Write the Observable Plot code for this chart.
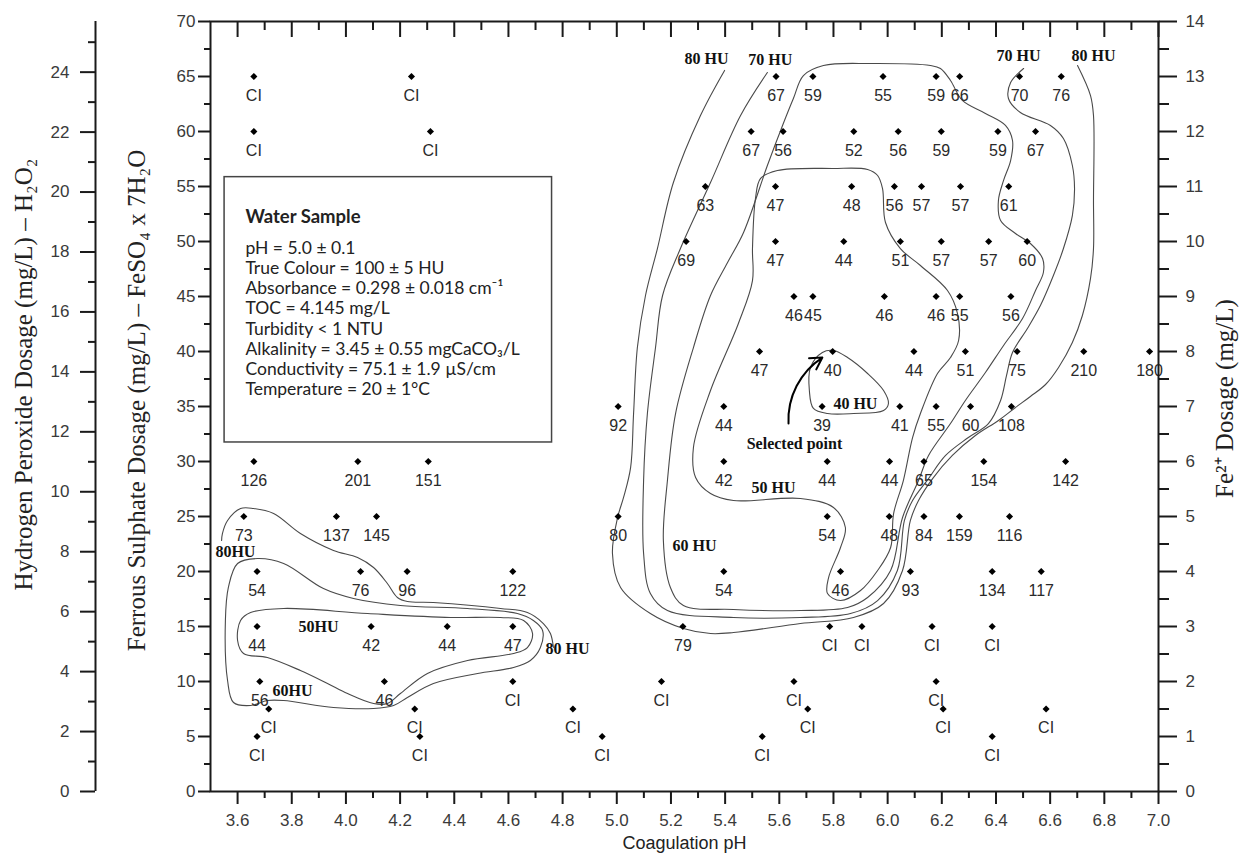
<!DOCTYPE html>
<html><head><meta charset="utf-8">
<script src="https://cdn.jsdelivr.net/npm/d3@7"></script>
<script src="https://cdn.jsdelivr.net/npm/@observablehq/plot@0.6"></script>
<style>body{margin:0;background:#fff}</style>
</head><body><div id="chart"></div>
<script>
// ---- data ----
const doseRows = [65, 60, 55, 50, 45, 40, 35, 30, 25, 20, 15, 10, 7.5, 5];
const rowPH = [
  [3.660, 4.242, 5.588, 5.724, 5.983, 6.179, 6.266, 6.487, 6.641],
  [3.660, 4.312, 5.496, 5.614, 5.875, 6.039, 6.198, 6.407, 6.546],
  [5.327, 5.586, 5.867, 6.025, 6.125, 6.269, 6.447],
  [5.256, 5.586, 5.838, 6.047, 6.198, 6.373, 6.515],
  [5.654, 5.724, 5.988, 6.179, 6.266, 6.455],
  [5.527, 5.797, 6.097, 6.287, 6.478, 6.724, 6.967],
  [5.005, 5.395, 5.758, 6.045, 6.179, 6.306, 6.457],
  [3.660, 4.044, 4.304, 5.395, 5.777, 6.007, 6.134, 6.355, 6.657],
  [3.623, 3.965, 4.113, 5.005, 5.777, 6.006, 6.134, 6.265, 6.450],
  [3.672, 4.054, 4.226, 4.616, 5.395, 5.826, 6.084, 6.386, 6.567],
  [3.672, 4.093, 4.374, 4.616, 5.244, 5.786, 5.905, 6.164, 6.386],
  [3.682, 4.142, 4.616, 5.165, 5.654, 6.179],
  [3.715, 4.254, 4.838, 5.705, 6.205, 6.585],
  [3.672, 4.273, 4.946, 5.537, 6.386]
];
const rowLabels = [
  ["CI", "CI", "67", "59", "55", "59", "66", "70", "76"],
  ["CI", "CI", "67", "56", "52", "56", "59", "59", "67"],
  ["63", "47", "48", "56", "57", "57", "61"],
  ["69", "47", "44", "51", "57", "57", "60"],
  ["46", "45", "46", "46", "55", "56"],
  ["47", "40", "44", "51", "75", "210", "180"],
  ["92", "44", "39", "41", "55", "60", "108"],
  ["126", "201", "151", "42", "44", "44", "65", "154", "142"],
  ["73", "137", "145", "80", "54", "48", "84", "159", "116"],
  ["54", "76", "96", "122", "54", "46", "93", "134", "117"],
  ["44", "42", "44", "47", "79", "CI", "CI", "CI", "CI"],
  ["56", "46", "CI", "CI", "CI", "CI"],
  ["CI", "CI", "CI", "CI", "CI", "CI"],
  ["CI", "CI", "CI", "CI", "CI"]
];

// iso-colour contours [pH, FeSO4 dose]
const c80Main = [[5.398,65.55],[5.309,61.45],[5.209,55.36],[5.150,49.36],[5.106,45.09],[5.076,40.36],[5.062,34.36],[5.051,29.45],[5.025,26.73],[5.003,24.91],[4.984,21.64],[5.014,18.55],[5.124,16.18],[5.246,14.82],[5.346,14.36],[5.431,14.45],[5.678,15.27],[5.874,15.82],[5.985,17.09],[6.055,20.09],[6.084,24.64],[6.114,26.45],[6.166,28.45],[6.239,30.55],[6.324,32.36],[6.409,33.73],[6.472,34.91],[6.527,35.91],[6.583,37.0],[6.631,38.55],[6.682,40.82],[6.719,43.27],[6.749,46.64],[6.760,49.36],[6.760,53.73],[6.760,61.45],[6.749,63.27],[6.701,66.0]];
const c70Main = [[5.556,65.36],[5.457,61.45],[5.346,55.36],[5.235,49.36],[5.169,45.09],[5.143,40.36],[5.113,34.36],[5.099,28.27],[5.099,21.64],[5.124,18.0],[5.187,16.45],[5.431,15.82],[5.678,15.82],[5.863,16.18],[5.963,17.36],[6.036,20.09],[6.062,24.64],[6.092,26.45],[6.151,28.45],[6.214,30.55],[6.298,32.18],[6.372,33.45],[6.417,35.55],[6.439,37.82],[6.461,39.91],[6.516,42.09],[6.564,44.18],[6.612,46.91],[6.649,49.36],[6.682,52.36],[6.690,54.82],[6.682,56.91],[6.649,59.36],[6.601,60.55],[6.490,61.73],[6.446,63.0],[6.454,64.45],[6.502,65.73]];
const c60Main = [[5.689,65.09],[5.763,66.0],[5.937,66.18],[6.158,66.0],[6.195,65.73],[6.232,64.64],[6.276,62.82],[6.361,61.64],[6.435,60.55],[6.461,59.18],[6.454,57.36],[6.428,55.55],[6.409,53.73],[6.417,51.91],[6.472,50.73],[6.527,49.82],[6.572,48.45],[6.575,47.18],[6.546,45.55],[6.498,43.0],[6.428,40.55],[6.361,38.09],[6.287,35.55],[6.232,33.45],[6.151,30.55],[6.114,28.27],[6.055,24.91],[6.011,20.09],[5.926,17.64],[5.852,16.73],[5.678,16.45],[5.431,16.55],[5.246,16.91],[5.198,18.55],[5.172,22.82],[5.187,28.27],[5.217,34.36],[5.283,40.36],[5.346,45.09],[5.409,48.09],[5.468,50.82],[5.556,56.91],[5.612,60.55],[5.652,63.0]];
const c50Main = [[5.501,46.45],[5.501,49.36],[5.512,53.91],[5.531,55.73],[5.593,56.45],[5.800,56.64],[5.926,56.55],[5.963,56.0],[5.981,54.82],[5.992,51.73],[6.047,49.36],[6.121,47.82],[6.221,45.55],[6.258,43.45],[6.262,41.0],[6.232,39.45],[6.184,38.0],[6.121,34.36],[6.092,32.18],[6.058,28.27],[6.022,25.27],[6.011,22.18],[5.963,20.09],[5.900,18.27],[5.826,17.36],[5.778,18.0],[5.782,19.45],[5.826,22.18],[5.844,24.0],[5.800,25.82],[5.678,26.64],[5.431,26.45],[5.346,27.09],[5.291,28.55],[5.283,31.27],[5.346,36.45],[5.449,42.55]];
const c40Main = [[5.759,39.91],[5.800,40.09],[5.852,39.45],[5.926,38.0],[5.985,36.45],[6.003,35.27],[5.985,34.64],[5.874,34.36],[5.778,34.36],[5.726,34.82],[5.711,36.45],[5.715,38.55]];
const c80Low = [[3.541,22.82],[3.544,23.45],[3.563,24.64],[3.611,25.73],[3.659,25.73],[3.733,25.27],[3.832,23.45],[3.954,21.91],[4.043,21.27],[4.102,20.36],[4.153,18.91],[4.190,17.64],[4.227,17.27],[4.323,17.18],[4.571,16.64],[4.670,16.27],[4.729,15.27],[4.755,14.36],[4.766,13.09]];
const c60Low = [[3.563,10.09],[3.555,15.55],[3.566,18.55],[3.600,20.73],[3.674,21.18],[3.770,20.73],[3.917,18.45],[4.028,17.55],[4.201,16.91],[4.449,16.64],[4.633,16.18],[4.692,15.55],[4.726,14.64],[4.718,13.09],[4.681,11.91],[4.619,11.27],[4.486,10.73],[4.323,9.82],[4.227,8.55],[4.176,7.82],[4.102,7.55],[3.954,7.64],[3.770,8.27],[3.710,8.27],[3.648,7.82],[3.585,8.09]];
const c50Low = [[3.600,13.73],[3.611,15.55],[3.648,16.27],[3.770,16.64],[4.080,16.18],[4.386,15.82],[4.571,15.82],[4.656,15.55],[4.689,14.36],[4.670,13.09],[4.619,12.55],[4.449,11.91],[4.301,10.73],[4.201,8.91],[4.153,8.0],[4.102,8.0],[4.006,8.91],[3.932,9.82],[3.832,11.0],[3.710,12.18],[3.622,12.55]];

const contourLabelText = ["80 HU", "70 HU", "70 HU", "80 HU", "40 HU", "50 HU", "60 HU", "80HU", "50HU", "60HU", "80 HU"];
const contourLabelPH   = [5.331, 5.567, 6.483, 6.760, 5.881, 5.579, 5.287, 3.592, 3.899, 3.803, 4.818];
const contourLabelDose = [66.64, 66.55, 66.91, 66.91, 35.27, 27.64, 22.36, 21.82, 15.0, 9.18, 13.0];

const selectedArrow = {pH1: 5.634, dose1: 33.45, pH2: 5.759, dose2: 39.45};
const selectedText = {pH: 5.656, dose: 31.64, text: "Selected point"};

const sampleBox = {pH1: 3.552, pH2: 4.761, dose1: 31.73, dose2: 55.85};
const sampleTitle = "Water Sample";
const sampleLines = [
  "pH = 5.0 ± 0.1",
  "True Colour = 100 ± 5 HU",
  "Absorbance = 0.298 ± 0.018 cm\u207B\u00B9",
  "TOC = 4.145 mg/L",
  "Turbidity < 1 NTU",
  "Alkalinity = 3.45 ± 0.55 mgCaCO\u2083/L",
  "Conductivity = 75.1 ± 1.9 µS/cm",
  "Temperature = 20 ± 1°C"
];
const sampleTextPH = 3.629, sampleTitleDose = 52.18, sampleBodyDose = 43.05;

const xMajorTicks = d3.range(18, 36).map(v => v / 5);      // 3.6 .. 7.0
const xMinorTicks = d3.range(37, 70, 2).map(v => v / 10);  // 3.7 .. 6.9
const feso4Major = d3.range(0, 71, 5);
const feso4Minor = d3.range(2.5, 70, 5);
const h2o2Major = d3.range(0, 25, 2);
const h2o2Minor = d3.range(1, 26, 2);
const h2o2PerFeSO4 = 0.367;   // mg/L H2O2 per mg/L FeSO4·7H2O (molar ratio 3)
const fePerFeSO4 = 0.2;       // Fe2+ axis: 70 -> 14

// ---- tables ----
const points = doseRows.flatMap((d, i) => rowPH[i].map((p, j) => ({pH: p, dose: d, label: rowLabels[i][j]})));
const toRows = (id, arr) => arr.map(([pH, dose]) => ({id, pH, dose}));
const openContours = [...toRows("80main", c80Main), ...toRows("70main", c70Main), ...toRows("80low", c80Low)];
const closedContours = [...toRows("60main", c60Main), ...toRows("50main", c50Main), ...toRows("40main", c40Main), ...toRows("60low", c60Low), ...toRows("50low", c50Low)];
const contourLabels = contourLabelText.map((t, i) => ({text: t, pH: contourLabelPH[i], dose: contourLabelDose[i]}));

const axisInk = "#1a1a1a", textInk = "#3a3a3a";
const serif = "'Liberation Serif', 'Times New Roman', serif";
const sans = "'Liberation Sans', Arial, sans-serif";
const boxFont = "Lato, 'Open Sans', sans-serif";

const chart = Plot.plot({
  width: 1243, height: 861,
  marginLeft: 210, marginRight: 85, marginTop: 21, marginBottom: 70,
  x: {domain: [3.5, 7.0]},
  y: {domain: [0, 70]},
  style: {fontFamily: sans, background: "#fff"},
  marks: [
    // contours
    Plot.line(openContours, {x: "pH", y: "dose", z: "id", curve: "catmull-rom", stroke: "#4a4a4a", strokeWidth: 1.1}),
    Plot.line(closedContours, {x: "pH", y: "dose", z: "id", curve: "catmull-rom-closed", stroke: "#4a4a4a", strokeWidth: 1.1}),
    // sample box
    Plot.rect([sampleBox], {x1: "pH1", x2: "pH2", y1: "dose1", y2: "dose2", fill: "#fff", stroke: "#444", strokeWidth: 1.5}),
    Plot.text([sampleTitle], {x: () => sampleTextPH, y: () => sampleTitleDose, text: d => d, textAnchor: "start", fontFamily: boxFont, fontWeight: "bold", fontSize: 18.5, fill: "#222"}),
    Plot.text([sampleLines.join("\n")], {x: () => sampleTextPH, y: () => sampleBodyDose, text: d => d, textAnchor: "start", lineHeight: 1.154, fontFamily: boxFont, fontSize: 17.5, fill: "#222"}),
    // points
    Plot.dot(points, {x: "pH", y: "dose", symbol: "diamond2", r: 3.2, fill: "#000"}),
    Plot.text(points, {x: "pH", y: "dose", text: "label", dy: 19, fontSize: 16, fill: "#2a2a2a"}),
    // contour labels
    Plot.text(contourLabels, {x: "pH", y: "dose", text: "text", fontFamily: serif, fontWeight: "bold", fontSize: 16, fill: "#111"}),
    // selected point
    Plot.arrow([selectedArrow], {x1: "pH1", y1: "dose1", x2: "pH2", y2: "dose2", bend: 30, stroke: "#000", strokeWidth: 2, headLength: 10}),
    Plot.text([selectedText], {x: "pH", y: "dose", text: "text", fontFamily: serif, fontWeight: "bold", fontSize: 16, fill: "#111"}),
    // frame
    Plot.frame({stroke: axisInk, strokeWidth: 2}),
    // bottom axis
    Plot.axisX({anchor: "bottom", ticks: xMajorTicks, tickSize: 13, tickPadding: 9, tickFormat: d3.format(".1f"), stroke: axisInk, strokeWidth: 2, fill: textInk, fontSize: 17, label: null}),
    Plot.axisX({anchor: "bottom", ticks: xMinorTicks, tickSize: 7, text: null, stroke: axisInk, strokeWidth: 2, label: null}),
    // top inner ticks
    Plot.axisX({anchor: "top", ticks: xMajorTicks, tickSize: 15, dy: 15, text: null, stroke: axisInk, strokeWidth: 2, label: null}),
    Plot.axisX({anchor: "top", ticks: xMinorTicks, tickSize: 8, dy: 8, text: null, stroke: axisInk, strokeWidth: 2, label: null}),
    // left FeSO4 axis
    Plot.axisY({anchor: "left", ticks: feso4Major, tickSize: 12, tickPadding: 3, stroke: axisInk, strokeWidth: 2, fill: textInk, fontSize: 17, label: null}),
    Plot.axisY({anchor: "left", ticks: feso4Minor, tickSize: 6, text: null, stroke: axisInk, strokeWidth: 2, label: null}),
    // right Fe2+ axis
    Plot.axisY({anchor: "right", ticks: feso4Major, tickFormat: d => d3.format("d")(d * fePerFeSO4), tickSize: 18, tickPadding: 9, stroke: axisInk, strokeWidth: 2, fill: textInk, fontSize: 17, label: null}),
    Plot.axisY({anchor: "right", ticks: feso4Minor, tickSize: 10, text: null, stroke: axisInk, strokeWidth: 2, label: null}),
    // far-left H2O2 axis
    Plot.ruleX([3.5], {dx: -115, stroke: axisInk, strokeWidth: 2}),
    Plot.axisY({anchor: "left", dx: -115, ticks: h2o2Major.map(h => h / h2o2PerFeSO4), tickFormat: d => d3.format("d")(Math.round(d * h2o2PerFeSO4)), tickSize: 15, tickPadding: 11, stroke: axisInk, strokeWidth: 2, fill: textInk, fontSize: 17, label: null}),
    Plot.axisY({anchor: "left", dx: -115, ticks: h2o2Minor.map(h => h / h2o2PerFeSO4), tickSize: 7, text: null, stroke: axisInk, strokeWidth: 2, label: null}),
    // axis titles
    Plot.text(["Hydrogen Peroxide Dosage (mg/L) \u2013 H\u2082O\u2082"], {frameAnchor: "left", textAnchor: "middle", dx: -187, dy: -32, rotate: -90, text: d => d, fontFamily: serif, fontSize: 25, fill: "#222"}),
    Plot.text(["Ferrous Sulphate Dosage (mg/L) \u2013 FeSO\u2084 x 7H\u2082O"], {frameAnchor: "left", textAnchor: "middle", dx: -74, dy: -6, rotate: -90, text: d => d, fontFamily: serif, fontSize: 25, fill: "#222"}),
    Plot.text(["Fe\u00B2\u207A Dosage (mg/L)"], {frameAnchor: "right", textAnchor: "middle", dx: 66, dy: -8, rotate: -90, text: d => d, fontFamily: serif, fontSize: 25, fill: "#222"}),
    Plot.text(["Coagulation pH"], {frameAnchor: "bottom", textAnchor: "middle", dy: 57, text: d => d, fontFamily: sans, fontSize: 18, fill: "#222"})
  ]
});
document.getElementById("chart").appendChild(chart);
</script>
</body></html>
